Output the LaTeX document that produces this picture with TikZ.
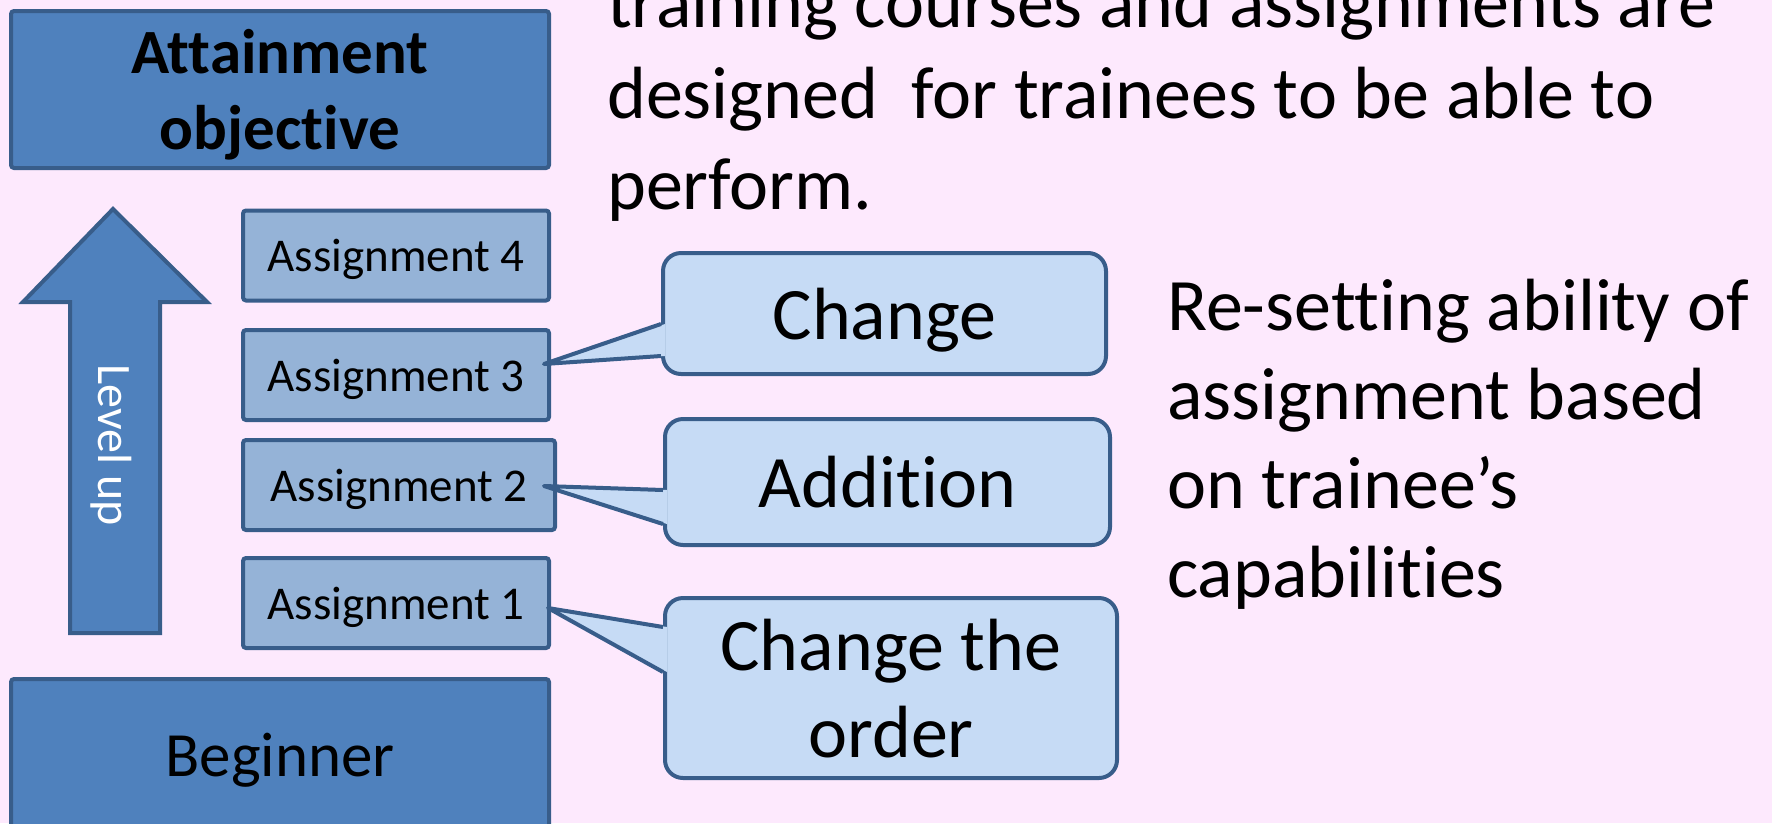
\documentclass[tikz,border=0pt]{standalone}
\usepackage{fontspec}
\setmainfont{Carlito}[Ligatures=NoCommon]
\usetikzlibrary{positioning,calc}
\definecolor{slidepink}{RGB}{253,233,253}
\definecolor{stepblue}{RGB}{79,129,189}
\definecolor{edgeblue}{RGB}{56,93,138}
\definecolor{taskblue}{RGB}{149,179,215}
\definecolor{noteblue}{RGB}{198,219,245}

\begin{document}
\begin{tikzpicture}[x=1pt, y=-1pt,
levelbox/.style={draw=edgeblue, fill=stepblue, line width=4pt, rounded corners=3pt,
minimum width=538pt, align=center, text depth=0pt},
taskbox/.style={draw=edgeblue, fill=taskblue, line width=4pt, rounded corners=3pt,
minimum width=306pt, minimum height=90pt, text depth=0pt, font=\fontsize{47}{56}\selectfont},
note/.style={draw=edgeblue, fill=noteblue, line width=4pt, rounded corners=18pt,
align=center, text depth=0pt, font=\fontsize{74}{87}\selectfont},
pointer/.style={draw=edgeblue, line width=4pt, line join=round},
bigtext/.style={anchor=base west, align=left, inner sep=0pt, font=\fontsize{74}{91}\selectfont}
]
\useasboundingbox (0,0) rectangle (1772,823);
\clip (0,0) rectangle (1772,823);
\fill[slidepink] (0,0) rectangle (1772,823);

% levels
\node[levelbox, minimum height=157pt, font=\bfseries\fontsize{63}{76}\selectfont] (goal) at (280,89.5)
{Attainment\\objective};
\node[levelbox, minimum height=152pt, font=\fontsize{63}{76}\selectfont] (start) at (280,755) {Beginner};

% level-up arrow
\draw[draw=edgeblue, fill=stepblue, line width=4pt]
(113,209) -- (207,302) -- (160,302) -- (160,633) -- (70,633) -- (70,302) -- (23,302) -- cycle;
\node[rotate=-90, text=white, font=\fontsize{48}{56}\selectfont] (lvl) at (111,445) {Level up};

% assignments
\node[taskbox] (a4) at (396,255.5) {Assignment 4};
\node[taskbox] (a3) at (396,375) {Assignment 3};
\node[taskbox, minimum width=312pt] (a2) at (399,485) {Assignment 2};
\node[taskbox] (a1) at (396,603) {Assignment 1};

% callouts
\node[note, minimum width=443pt, minimum height=121pt] (chg) at (884.5,313.5) {Change};
\node[note, minimum width=445pt, minimum height=126pt] (add) at (887.5,482) {Addition};
\node[note, minimum width=452pt, minimum height=180pt] (ord) at (891,688) {Change the\\order};

\fill[noteblue] ($(chg.west)+(4,10.5)$) -- ($(a3.east)+(-7,-11)$) -- ($(chg.west)+(4,42.5)$) -- cycle;
\draw[pointer] ($(chg.west)+(0,10.5)$) -- ($(a3.east)+(-7,-11)$) -- ($(chg.west)+(0,42.5)$);
\fill[noteblue] ($(add.west)+(4,8)$) -- ($(a2.east)+(-13,1)$) -- ($(add.west)+(4,42)$) -- cycle;
\draw[pointer] ($(add.west)+(0,8)$) -- ($(a2.east)+(-13,1)$) -- ($(add.west)+(0,42)$);
\fill[noteblue] ($(ord.west)+(4,-61)$) -- ($(a1.east)+(-3,5)$) -- ($(ord.west)+(4,-16)$) -- cycle;
\draw[pointer] ($(ord.west)+(0,-61)$) -- ($(a1.east)+(-3,5)$) -- ($(ord.west)+(0,-16)$);

% texts
\node[bigtext] (aim) at (607,209)
{training courses and assignments are\\designed\ \ for trainees to be able to\\perform.};
\node[bigtext, font=\fontsize{74}{89}\selectfont] (reset) at (1167,597)
{Re-setting ability of\\assignment based\\on trainee’s\\capabilities};

\end{tikzpicture}
\end{document}
